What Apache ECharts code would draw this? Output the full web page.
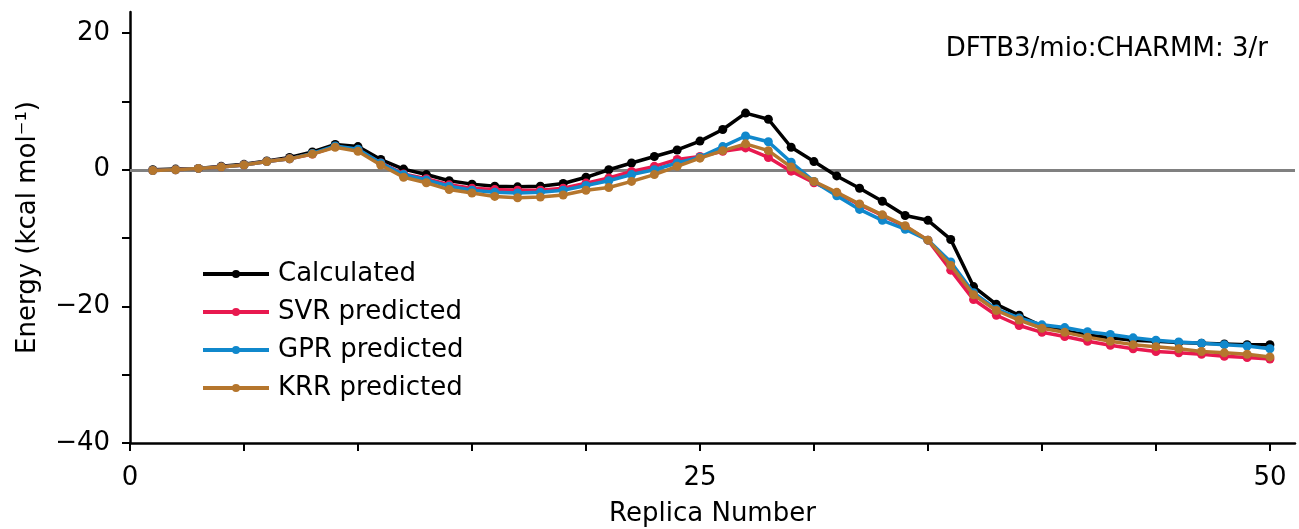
<!DOCTYPE html>
<html>
<head>
<meta charset="utf-8">
<script src="https://cdn.jsdelivr.net/npm/echarts@6/dist/echarts.min.js"></script>
<style>html,body{margin:0;padding:0;background:#fff}#c{width:1299px;height:529px}</style>
</head>
<body>
<div id="c"></div>
<script>
const replicas = Array.from({length: 50}, (_, i) => i + 1);
const calculated = [0, 0.1, 0.2, 0.5, 0.8, 1.3, 1.8, 2.6, 3.7, 3.4,
  1.5, 0.1, -0.7, -1.6, -2.1, -2.4, -2.5, -2.4, -2.0, -1.1,
  0, 1.0, 1.95, 2.9, 4.2, 5.9, 8.3, 7.4, 3.3, 1.2,
  -0.9, -2.7, -4.6, -6.7, -7.4, -10.2, -17.1, -19.7, -21.3, -22.9,
  -23.6, -24.2, -24.6, -24.95, -25.1, -25.3, -25.4, -25.5, -25.6, -25.6];
const svr = [-0.1, 0, 0.2, 0.4, 0.7, 1.2, 1.6, 2.3, 3.4, 2.9,
  1.0, -0.6, -1.3, -2.2, -2.7, -2.9, -3.0, -3.0, -2.7, -1.95,
  -1.2, -0.25, 0.5, 1.5, 1.95, 2.7, 3.2, 1.8, -0.2, -1.9,
  -3.4, -5.1, -6.7, -8.3, -10.3, -14.7, -19.0, -21.3, -22.8, -23.8,
  -24.4, -25.1, -25.7, -26.2, -26.6, -26.8, -27.0, -27.3, -27.5, -27.7];
const gpr = [-0.1, 0, 0.2, 0.4, 0.7, 1.2, 1.6, 2.4, 3.5, 3.0,
  1.0, -0.7, -1.5, -2.4, -3.0, -3.3, -3.4, -3.3, -3.0, -2.3,
  -1.6, -0.7, 0.0, 1.0, 1.85, 3.4, 4.95, 4.1, 1.1, -1.7,
  -3.8, -5.8, -7.4, -8.7, -10.3, -13.5, -18.0, -20.4, -21.7, -22.7,
  -23.1, -23.7, -24.1, -24.6, -24.95, -25.2, -25.4, -25.6, -25.8, -26.2];
const krr = [-0.1, 0, 0.2, 0.4, 0.7, 1.2, 1.6, 2.3, 3.3, 2.7,
  0.7, -1.1, -1.9, -2.9, -3.4, -3.9, -4.1, -4.0, -3.7, -3.0,
  -2.6, -1.7, -0.7, 0.5, 1.7, 2.8, 3.8, 2.8, 0.4, -1.7,
  -3.3, -5.0, -6.6, -8.2, -10.3, -14.0, -18.3, -20.6, -22.0, -23.2,
  -23.8, -24.5, -25.1, -25.6, -25.9, -26.2, -26.6, -26.8, -27.0, -27.4];
const seriesNames = ['Calculated', 'SVR predicted', 'GPR predicted', 'KRR predicted'];
const seriesColors = ['#000000', '#E8194F', '#1088CC', '#B5762D'];
const xTickLabels = [0, 25, 50];
const yTickLabels = [-40, -20, 0, 20];
const annotation = 'DFTB3/mio:CHARMM: 3/r';

const font = 'DejaVu Sans';
const fs = 26;
const allData = [calculated, svr, gpr, krr];
const chart = echarts.init(document.getElementById('c'), null, {renderer: 'canvas'});
const fmtMinus = v => String(v).replace('-', '\u2212');

const series = allData.map((vals, i) => ({
  name: seriesNames[i],
  type: 'line',
  xAxisIndex: 0, yAxisIndex: 0,
  data: replicas.map((r, j) => [r, vals[j]]),
  symbol: 'circle',
  symbolSize: 9,
  showSymbol: true,
  lineStyle: {width: 3.5, color: seriesColors[i]},
  itemStyle: {color: seriesColors[i]},
  emphasis: {disabled: true},
  animation: false,
  z: 3 + i,
  markLine: i === 0 ? {
    silent: true, symbol: 'none', label: {show: false},
    lineStyle: {color: '#808080', width: 3, type: 'solid'},
    data: [{yAxis: 0}], z: 1, animation: false
  } : undefined
}));

chart.setOption({
  animation: false,
  textStyle: {fontFamily: font},
  title: {
    text: annotation, right: 26, top: 31,
    textStyle: {fontFamily: font, fontSize: fs, fontWeight: 'normal', color: '#000'}
  },
  legend: {
    orient: 'vertical', left: 196, top: 256,
    itemWidth: 66, itemHeight: 10, itemGap: 12,
    data: seriesNames,
    lineStyle: {width: 4},
    textStyle: {fontFamily: font, fontSize: fs, color: '#000', padding: [0, 0, 0, 4]}
  },
  grid: [
    {left: 130, right: 4, top: 12, bottom: 86, containLabel: false, outerBoundsMode: 'none'},
    {left: 130, right: 29, top: 33, bottom: 86, containLabel: false, outerBoundsMode: 'none'}
  ],
  xAxis: [
    {type: 'value', gridIndex: 0, min: 0, max: 51.1,
     axisLine: {show: true, onZero: false, lineStyle: {color: '#000', width: 2.5}},
     axisTick: {show: false}, axisLabel: {show: false}, splitLine: {show: false},
     name: 'Replica Number', nameLocation: 'middle', nameGap: 58,
     nameTextStyle: {fontFamily: font, fontSize: fs, color: '#000'}},
    {type: 'value', gridIndex: 1, min: 0, max: 50, interval: 5,
     axisLine: {show: false, onZero: false},
     axisTick: {show: true, length: 8, lineStyle: {color: '#000', width: 2}},
     axisLabel: {show: true, fontFamily: font, fontSize: fs, color: '#000', margin: 22,
       formatter: v => xTickLabels.includes(v) ? fmtMinus(v) : ''},
     splitLine: {show: false}}
  ],
  yAxis: [
    {type: 'value', gridIndex: 0, min: -40, max: 23.1,
     axisLine: {show: true, onZero: false, lineStyle: {color: '#000', width: 2.5}},
     axisTick: {show: false}, axisLabel: {show: false}, splitLine: {show: false},
     name: 'Energy (kcal mol\u207B\u00B9)', nameLocation: 'middle', nameGap: 89,
     nameRotate: 90,
     nameTextStyle: {fontFamily: font, fontSize: fs, color: '#000'}},
    {type: 'value', gridIndex: 1, min: -40, max: 20, interval: 10,
     axisLine: {show: false, onZero: false},
     axisTick: {show: true, length: 8, lineStyle: {color: '#000', width: 2}},
     axisLabel: {show: true, fontFamily: font, fontSize: fs, color: '#000', margin: 20,
       formatter: v => yTickLabels.includes(v) ? fmtMinus(v) : ''},
     splitLine: {show: false}}
  ],
  series: series
});
</script>
</body>
</html>
